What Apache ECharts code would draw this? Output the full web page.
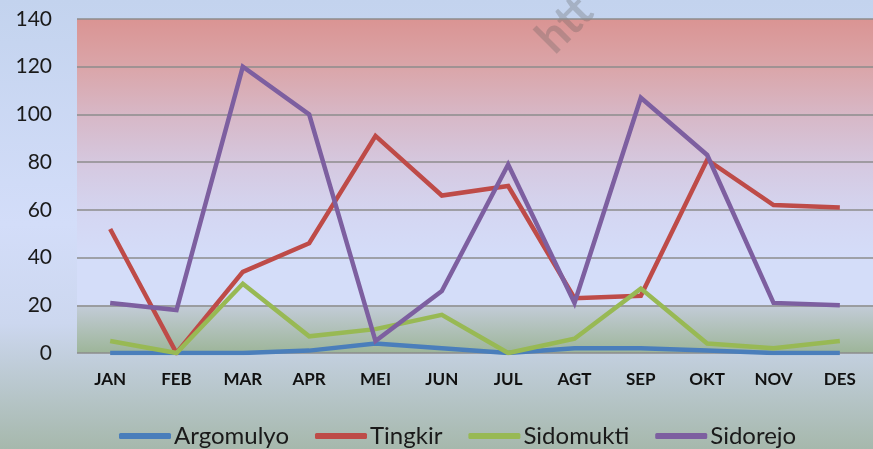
<!DOCTYPE html>
<html>
<head>
<meta charset="utf-8">
<script src="https://cdn.jsdelivr.net/npm/echarts@6/dist/echarts.min.js"></script>
<style>
  html, body { margin: 0; padding: 0; }
  #chart { width: 873px; height: 449px; }
</style>
</head>
<body>
<div id="chart"></div>
<script>
var months = ['JAN', 'FEB', 'MAR', 'APR', 'MEI', 'JUN', 'JUL', 'AGT', 'SEP', 'OKT', 'NOV', 'DES'];
var argomulyo = [0, 0, 0, 1, 4, 2, 0, 2, 2, 1, 0, 0];
var tingkir = [52, 0, 34, 46, 91, 66, 70, 23, 24, 81, 62, 61];
var sidomukti = [5, 0, 29, 7, 10, 16, 0, 6, 27, 4, 2, 5];
var sidorejo = [21, 18, 120, 100, 5, 26, 79, 21, 107, 83, 21, 20];

var font = 'Lato';

function lineSeries(name, data, color) {
  return {
    name: name,
    type: 'line',
    data: data,
    showSymbol: false,
    symbol: 'none',
    itemStyle: { color: color },
    lineStyle: { width: 4.5, color: color, join: 'miter' }
  };
}

var chart = echarts.init(document.getElementById('chart'), null, { renderer: 'canvas' });
chart.setOption({
  animation: false,
  backgroundColor: {
    type: 'linear', x: 0, y: 0, x2: 0, y2: 1,
    colorStops: [
      { offset: 0, color: '#c3d3ee' },
      { offset: 0.5, color: '#d3ddf9' },
      { offset: 0.72, color: '#ccd7ef' },
      { offset: 1, color: '#a6b8ac' }
    ]
  },
  grid: {
    left: 77, right: -11, top: 19, bottom: 96,
    show: true,
    borderWidth: 0,
    backgroundColor: {
      type: 'linear', x: 0, y: 0, x2: 0, y2: 1,
      colorStops: [
        { offset: 0, color: '#da9493' },
        { offset: 0.15, color: '#daa6aa' },
        { offset: 0.3, color: '#d7b9c9' },
        { offset: 0.45, color: '#d5cae2' },
        { offset: 0.6, color: '#d4d7f3' },
        { offset: 0.72, color: '#d4ddf9' },
        { offset: 0.857, color: '#d4ddf9' },
        { offset: 0.858, color: '#c3ccd8' },
        { offset: 1, color: '#9db599' }
      ]
    }
  },
  legend: {
    left: 114,
    top: 419,
    itemWidth: 52,
    itemHeight: 6,
    itemGap: 26,
    icon: 'roundRect',
    textStyle: { fontFamily: font, fontSize: 24, color: '#1a1a1a', padding: [0, 0, 0, -2] },
    data: ['Argomulyo', 'Tingkir', 'Sidomukti', 'Sidorejo']
  },
  xAxis: {
    type: 'category',
    data: months,
    boundaryGap: true,
    axisLine: { show: false },
    axisTick: { show: false },
    axisLabel: { margin: 18, color: '#111', fontFamily: font, fontSize: 17, fontWeight: 'bold' }
  },
  yAxis: {
    type: 'value',
    min: 0, max: 140, interval: 20,
    axisLine: { show: false },
    axisTick: { show: false },
    axisLabel: { margin: 25, color: '#1a1a1a', fontFamily: font, fontSize: 21 },
    splitLine: { lineStyle: { color: '#8c8c8c', width: 1.5 } }
  },
  graphic: [{
    type: 'text',
    left: 528,
    top: -12,
    rotation: Math.PI / 4,
    style: { text: 'htt', fontFamily: font, fontSize: 46, fontWeight: 'bold', fill: 'rgba(90,90,90,0.28)' }
  }],
  series: [
    lineSeries('Argomulyo', argomulyo, '#4a7ebb'),
    lineSeries('Tingkir', tingkir, '#be4b48'),
    lineSeries('Sidomukti', sidomukti, '#98b954'),
    lineSeries('Sidorejo', sidorejo, '#7d5fa0')
  ]
});
</script>
</body>
</html>
